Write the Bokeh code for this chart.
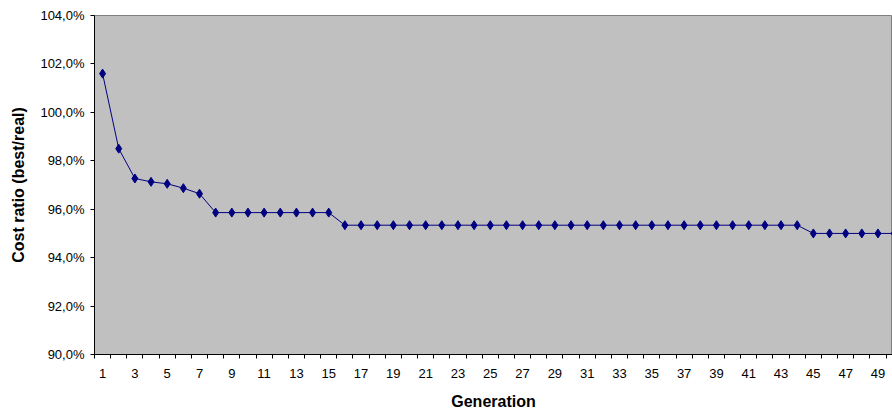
from bokeh.plotting import figure
from bokeh.models import Range1d, FixedTicker
from bokeh.embed import file_html
from bokeh.resources import INLINE

generations = [1, 2, 3, 4, 5, 6, 7, 8, 9, 10,
               11, 12, 13, 14, 15, 16, 17, 18, 19, 20,
               21, 22, 23, 24, 25, 26, 27, 28, 29, 30,
               31, 32, 33, 34, 35, 36, 37, 38, 39, 40,
               41, 42, 43, 44, 45, 46, 47, 48, 49, 50]
cost_ratio = [101.6, 98.5, 97.27, 97.13, 97.05, 96.87, 96.64, 95.86, 95.86, 95.86,
              95.86, 95.86, 95.86, 95.86, 95.86, 95.34, 95.34, 95.34, 95.34, 95.34,
              95.34, 95.34, 95.34, 95.34, 95.34, 95.34, 95.34, 95.34, 95.34, 95.34,
              95.34, 95.34, 95.34, 95.34, 95.34, 95.34, 95.34, 95.34, 95.34, 95.34,
              95.34, 95.34, 95.34, 95.34, 95.0, 95.0, 95.0, 95.0, 95.0, 95.0]
x_tick_labels = [1, 3, 5, 7, 9, 11, 13, 15, 17, 19, 21, 23, 25, 27, 29,
                 31, 33, 35, 37, 39, 41, 43, 45, 47, 49]
y_ticks = [90, 92, 94, 96, 98, 100, 102, 104]
y_tick_labels = ["90,0%", "92,0%", "94,0%", "96,0%", "98,0%", "100,0%", "102,0%", "104,0%"]

FONT = "Liberation Sans"

p = figure(width=892, height=412, output_backend="svg", toolbar_location=None,
           x_range=Range1d(0.5, 49.9), y_range=Range1d(90, 104),
           min_border_left=94, min_border_right=0, min_border_top=15, min_border_bottom=56)

p.background_fill_color = "#C0C0C0"
p.border_fill_color = "white"
p.outline_line_color = "#808080"
p.grid.visible = False

p.line(generations, cost_ratio, line_color="#000080", line_width=1)
p.scatter(generations, cost_ratio, marker="diamond", size=9,
          fill_color="#000080", line_color="#000080")

# x axis
xa = p.xaxis[0]
xa.ticker = FixedTicker(ticks=x_tick_labels,
                        minor_ticks=[g - 0.5 for g in generations] + [50.5])
xa.major_tick_line_color = None
xa.major_tick_out = 4
xa.major_tick_in = 0
xa.minor_tick_out = 4
xa.minor_tick_in = 0
xa.minor_tick_line_color = "black"
xa.axis_line_color = "black"
xa.major_label_text_font = FONT
xa.major_label_text_font_size = "13px"
xa.major_label_text_color = "black"
xa.major_label_standoff = 10
xa.axis_label = "Generation"
xa.axis_label_text_font = FONT
xa.axis_label_text_font_style = "bold"
xa.axis_label_text_font_size = "16px"
xa.axis_label_text_color = "black"
xa.axis_label_standoff = 12

# y axis
ya = p.yaxis[0]
ya.ticker = FixedTicker(ticks=y_ticks, minor_ticks=[])
ya.major_label_overrides = {t: l for t, l in zip(y_ticks, y_tick_labels)}
ya.major_tick_out = 4
ya.major_tick_in = 0
ya.major_tick_line_color = "black"
ya.axis_line_color = "black"
ya.major_label_text_font = FONT
ya.major_label_text_font_size = "13px"
ya.major_label_text_color = "black"
ya.major_label_standoff = 6
ya.axis_label = "Cost ratio (best/real)"
ya.axis_label_text_font = FONT
ya.axis_label_text_font_style = "bold"
ya.axis_label_text_font_size = "16px"
ya.axis_label_text_color = "black"
ya.axis_label_standoff = 10

open("out.html", "w").write(file_html(p, INLINE))
